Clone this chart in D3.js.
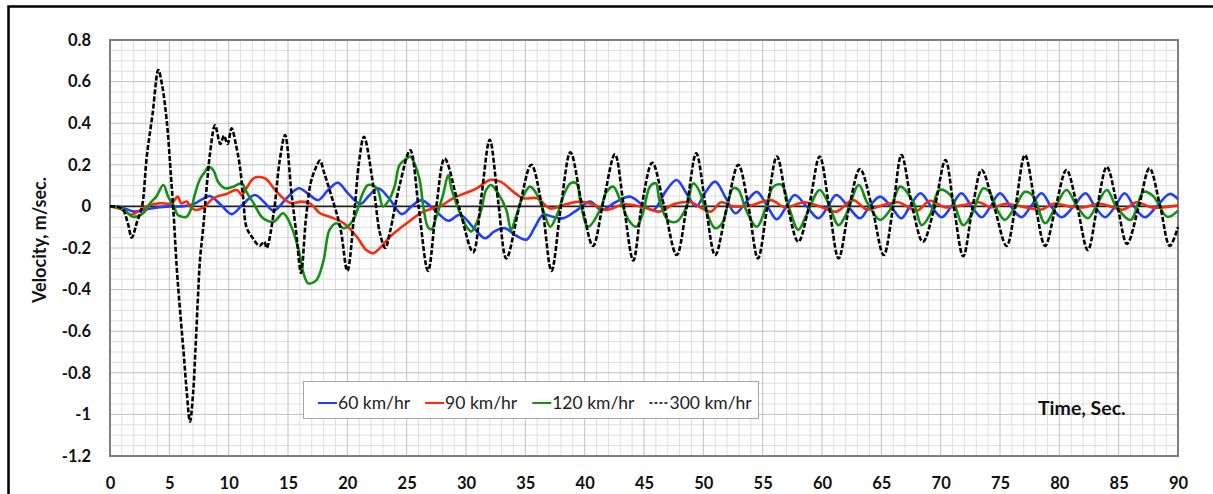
<!DOCTYPE html>
<html>
<head>
<meta charset="utf-8">
<script src="https://cdn.jsdelivr.net/npm/d3@7"></script>
<style>
  html, body { margin: 0; padding: 0; background: #fff; }
  svg { display: block; }
</style>
</head>
<body>
<svg id="chart" width="1213" height="494"></svg>
<script>
// ---------------- DATA ----------------
const seriesNames = ["60 km/hr", "90 km/hr", "120 km/hr", "300 km/hr"];
const xTicks = [0,5,10,15,20,25,30,35,40,45,50,55,60,65,70,75,80,85,90];
const yTicks = [0.8,0.6,0.4,0.2,0,-0.2,-0.4,-0.6,-0.8,-1,-1.2];
const xTitle = "Time, Sec.";
const yTitle = "Velocity, m/sec.";

// [time (s), velocity (m/s)]
const v60 = [
 [0,0],[1,-0.005],[2,-0.025],[3,-0.015],[4,-0.005],[5,0],[6,0],[7,0.01],[7.8,0.035],[8.4,0.05],
 [9.3,0.01],[10.25,-0.037],[11.2,0.01],[12.2,0.055],[13,0.02],[13.8,-0.02],[14.9,0.04],[15.9,0.087],
 [16.7,0.06],[17.55,0.03],[18.4,0.08],[19.2,0.114],[20.1,0.06],[21.1,0.012],[21.8,0.05],[22.6,0.087],
 [23.5,0.04],[24.6,-0.037],[25.4,0],[26.25,0.03],[27.4,-0.02],[28.5,-0.069],[29.5,-0.04],[30.6,-0.1],
 [31.6,-0.153],[32.4,-0.12],[33.3,-0.105],[34.2,-0.14],[35.1,-0.16],[35.8,-0.1],[36.5,-0.04],[37.3,-0.05],
 [38.2,-0.057],[39.3,-0.02],[40.45,0.023],[41.4,-0.017],[42.6,0.02],[43.8,0.047],[44.9,0.007],[45.8,-0.017],
 [46.8,0.07],[47.75,0.127],[48.6,0.06],[49.4,0],[50.2,0.07],[51,0.119],[51.9,0.04],[52.7,-0.033],
 [53.6,0.02],[54.5,0.07],[55.4,0],[56.2,-0.062],[57,0],[57.7,0.055],[58.7,0],[59.7,-0.057],[60.5,0],
 [61.2,0.055],[62.2,0],[63.2,-0.057],[64,0],[64.9,0.047],[65.8,0],[66.7,-0.057],[67.4,0],[68.3,0.063],
 [69.2,0],[70.1,-0.052],[70.9,0],[71.75,0.063],[72.6,0],[73.45,-0.052],[74.2,0],[75,0.063],[75.9,0],
 [76.8,-0.052],[77.6,0],[78.5,0.063],[79.3,0],[80.2,-0.052],[81.2,0],[82.2,0.063],[83,0],[83.85,-0.052],
 [84.7,0],[85.5,0.063],[86.3,0],[87.2,-0.052],[88.2,0],[89.3,0.06],[90,0.035]
];

const v90 = [
 [0,0],[1,-0.015],[1.8,-0.04],[2.5,-0.02],[3.3,0.005],[4.2,0.015],[5.2,0.015],[5.7,0.047],[6,0.015],
 [6.5,0.023],[6.75,0],[7.2,-0.017],[8,0],[8.5,0.03],[9,0.047],[9.8,0.06],[10.7,0.079],[11.1,0.055],
 [11.5,0.087],[12,0.13],[12.3,0.14],[12.8,0.14],[13.2,0.13],[13.8,0.087],[14.6,0.039],[15.3,0.015],
 [16.1,0.023],[16.85,0.015],[17.7,-0.033],[18.5,-0.05],[19.7,-0.081],[20.8,-0.146],[21.6,-0.21],
 [22.2,-0.225],[22.75,-0.2],[23.6,-0.146],[25,-0.081],[26.4,-0.025],[27.8,0],[28.9,0.039],[29.9,0.063],
 [30.9,0.087],[31.5,0.11],[32,0.127],[32.9,0.119],[34,0.07],[34.8,0.039],[36,0.039],[37.1,-0.01],
 [38.4,0.01],[39.6,0.023],[40.7,0.01],[41.8,-0.017],[43.3,0.01],[45,-0.005],[46.3,-0.025],[47.5,0.01],
 [48.9,0.02],[50.6,-0.025],[51.5,0.02],[52.5,0],[54,0.005],[55.7,0.03],[56.9,-0.005],[58.5,0.02],
 [59.8,0],[61.2,-0.025],[62.6,0.03],[63.8,-0.015],[64.8,0],[66.4,0.02],[68,-0.02],[69.1,0.027],
 [70.4,-0.005],[71.8,0.005],[73.2,0.02],[74.3,-0.005],[75.5,0.013],[76.8,0],[78.5,-0.015],[79.5,0.013],
 [80.8,0],[82,-0.005],[83.4,0.013],[85.4,-0.015],[86.5,0.02],[87.8,-0.005],[90,0.005]
];

const v120 = [
 [0,0],[1,-0.01],[1.96,-0.05],[2.8,-0.033],[3.37,0.015],[3.9,0.047],[4.5,0.103],[4.9,0.047],[5.4,0],
 [5.7,-0.04],[6.45,-0.05],[6.9,0],[7.1,0.047],[7.55,0.127],[8,0.167],[8.3,0.19],[8.7,0.175],[9.1,0.119],
 [9.7,0.087],[10.4,0.095],[11.1,0.111],[11.5,0.07],[12.1,0.015],[12.9,-0.057],[13.8,-0.073],[14.6,-0.033],
 [15.3,-0.1],[15.9,-0.21],[16.3,-0.32],[16.7,-0.37],[17.4,-0.354],[18,-0.258],[18.5,-0.113],[19.1,-0.081],
 [19.7,-0.105],[20.5,-0.065],[21.3,0.063],[21.75,0.103],[22.5,0.087],[23,0],[23.5,0.03],[24,0.1],
 [24.4,0.2],[25,0.23],[25.3,0.24],[25.7,0.2],[26.1,0.127],[26.4,0],[26.8,-0.1],[27.1,-0.11],[27.5,-0.05],
 [28.1,0.063],[28.5,0.151],[28.8,0.079],[29.5,-0.033],[30.05,-0.098],[30.45,-0.12],[31.2,-0.033],
 [31.7,0.079],[32.1,0.103],[32.7,0.063],[33.4,-0.017],[33.8,-0.113],[34.2,-0.05],[34.8,0.047],[35.4,0.095],
 [36,0.055],[36.5,-0.017],[37.1,-0.098],[37.6,-0.05],[38.3,0.063],[38.8,0.111],[39.3,0.111],[39.7,0],
 [40.3,-0.098],[41.3,-0.017],[41.85,0.07],[42.4,0.095],[43,0.03],[43.7,-0.065],[44.35,-0.098],[44.9,-0.033],
 [45.5,0.095],[46,0.111],[46.3,0.03],[47,-0.065],[47.75,-0.073],[48.6,0],[49.15,0.111],[49.7,0.07],
 [50.1,0],[51,-0.105],[51.6,-0.08],[52.5,0.087],[52.95,0.08],[53.6,-0.017],[54.5,-0.098],[55.3,0],
 [55.9,0.095],[56.6,0.103],[57.3,-0.02],[58,-0.113],[58.7,-0.04],[59.8,0.079],[60.5,0.02],[61.4,-0.09],
 [62.1,-0.03],[63.1,0.103],[63.8,0.02],[64.9,-0.065],[65.7,-0.02],[66.6,0.095],[67.7,0.02],[68.4,-0.09],
 [69.1,-0.04],[69.9,0.079],[70.8,0.055],[71.9,-0.09],[72.6,-0.04],[73.6,0.087],[74.1,0.07],[74.8,-0.02],
 [75.4,-0.065],[76.3,0],[77.1,0.07],[77.8,0.05],[78.8,-0.081],[79.7,0],[80.6,0.079],[81.5,0],[82.4,-0.057],
 [83.1,0],[84,0.079],[84.8,0],[86,-0.065],[87.1,0.07],[87.9,0.05],[89.1,-0.05],[90,-0.02]
];

const v300 = [
 [0,0],[1,-0.01],[1.5,-0.08],[1.83,-0.15],[2.3,-0.07],[2.7,0],[3.1,0.24],[3.6,0.45],[4.07,0.656],
 [4.4,0.58],[4.8,0.4],[5.14,0.143],[5.34,-0.017],[5.62,-0.29],[5.9,-0.5],[6.2,-0.7],[6.45,-0.88],
 [6.74,-1.035],[7,-0.9],[7.2,-0.69],[7.4,-0.45],[7.58,-0.26],[7.86,-0.097],[8.15,0.095],[8.43,0.255],
 [8.85,0.39],[9.3,0.3],[9.6,0.34],[9.9,0.3],[10.25,0.375],[10.6,0.3],[10.95,0.19],[11.24,0.03],
 [11.5,-0.1],[12,-0.15],[12.6,-0.19],[13,-0.17],[13.2,-0.2],[13.8,-0.03],[14.3,0.22],[14.75,0.343],
 [15.3,0.06],[15.7,-0.13],[16.1,-0.32],[16.5,-0.065],[16.9,0.11],[17.3,0.18],[17.7,0.22],[18,0.17],
 [18.5,0.08],[19.4,-0.1],[20,-0.31],[20.6,-0.02],[21,0.22],[21.4,0.335],[22.2,0.095],[22.75,-0.13],
 [23.2,-0.2],[23.6,-0.12],[24.4,0.1],[25.3,0.27],[26,0],[26.8,-0.31],[27.5,0],[28.2,0.23],[29.4,0],
 [30.6,-0.22],[31.3,0.05],[32,0.32],[32.7,0.03],[33.4,-0.25],[34.5,0],[35.5,0.2],[36.4,0],[37.2,-0.31],
 [38,0],[38.8,0.26],[39.8,0],[40.7,-0.19],[41.6,0.03],[42.55,0.25],[43.3,0],[44.1,-0.26],[44.8,0],
 [45.7,0.21],[46.7,0],[47.75,-0.234],[48.6,0],[49.4,0.255],[50.2,0],[51,-0.234],[52,0],[52.95,0.2],
 [53.8,0],[54.6,-0.25],[55.4,0],[56.2,0.24],[57.1,0],[58,-0.17],[58.9,0],[59.8,0.24],[60.6,0],
 [61.4,-0.25],[62.3,0],[63.2,0.18],[64.2,0],[65.2,-0.234],[66,0],[66.7,0.247],[67.6,0],[68.5,-0.17],
 [69.5,0],[70.4,0.223],[71.1,0],[71.9,-0.24],[72.7,0],[73.45,0.175],[74.5,0],[75.55,-0.19],[76.3,0],
 [77.1,0.247],[78,0],[78.8,-0.19],[79.7,0],[80.6,0.175],[81.5,0],[82.4,-0.21],[83.2,0],[84,0.19],
 [84.9,0],[85.7,-0.18],[86.7,0],[87.6,0.183],[88.5,0],[89.3,-0.19],[90,-0.1]
];

// ---------------- STYLE / LAYOUT ----------------
const colors = ["#1f3fff", "#ff2a0a", "#149114", "#000000"];
const widths = [2.6, 2.6, 2.6, 2.6];
const dashes = [null, null, null, "5,2"];
const data = [v60, v90, v120, v300];

const plot = { left: 110, top: 40, right: 1178, bottom: 456 };
const svg = d3.select("#chart");

// outer frame
svg.append("rect")
  .attr("x", 8.5).attr("y", 6.5).attr("width", 1230).attr("height", 520)
  .attr("fill", "none").attr("stroke", "#000").attr("stroke-width", 2.5);

const x = d3.scaleLinear().domain([0, 90]).range([plot.left, plot.right]);
const y = d3.scaleLinear().domain([-1.2, 0.8]).range([plot.bottom, plot.top]);

// grid
const g = svg.append("g");
const minorX = d3.range(0, 91, 1).filter(d => d % 5 !== 0);
const minorY = d3.range(-1.2, 0.8001, 0.05).map(d => Math.round(d * 100) / 100)
  .filter(d => Math.abs(Math.round(d * 100) % 20) !== 0);
g.selectAll(".mx").data(minorX).enter().append("line")
  .attr("x1", d => x(d)).attr("x2", d => x(d)).attr("y1", plot.top).attr("y2", plot.bottom)
  .attr("stroke", "#dedede").attr("stroke-width", 1);
g.selectAll(".my").data(minorY).enter().append("line")
  .attr("y1", d => y(d)).attr("y2", d => y(d)).attr("x1", plot.left).attr("x2", plot.right)
  .attr("stroke", "#dedede").attr("stroke-width", 1);
g.selectAll(".Mx").data(xTicks).enter().append("line")
  .attr("x1", d => x(d)).attr("x2", d => x(d)).attr("y1", plot.top).attr("y2", plot.bottom)
  .attr("stroke", "#c0c0c0").attr("stroke-width", 1);
g.selectAll(".My").data(yTicks).enter().append("line")
  .attr("y1", d => y(d)).attr("y2", d => y(d)).attr("x1", plot.left).attr("x2", plot.right)
  .attr("stroke", "#c0c0c0").attr("stroke-width", 1);

// plot border
svg.append("rect")
  .attr("x", plot.left).attr("y", plot.top)
  .attr("width", plot.right - plot.left).attr("height", plot.bottom - plot.top)
  .attr("fill", "none").attr("stroke", "#7f7f7f").attr("stroke-width", 2);

// zero line
svg.append("line")
  .attr("x1", x(0)).attr("x2", x(90)).attr("y1", y(0)).attr("y2", y(0))
  .attr("stroke", "#222").attr("stroke-width", 1.6);

// series
const line = d3.line().x(d => x(d[0])).y(d => y(d[1])).curve(d3.curveCatmullRom.alpha(0.5));
data.forEach((s, i) => {
  svg.append("path")
    .attr("d", line(s))
    .attr("fill", "none")
    .attr("stroke", colors[i])
    .attr("stroke-width", widths[i])
    .attr("stroke-linejoin", "round")
    .attr("stroke-dasharray", dashes[i]);
});

// axes
const fmt = d => String(Math.round(d * 10) / 10);
const yAxis = svg.append("g").attr("transform", `translate(${plot.left - 19},0)`)
  .call(d3.axisLeft(y).tickValues(yTicks).tickFormat(fmt).tickSize(0).tickPadding(0));
const xAxis = svg.append("g").attr("transform", `translate(0,${plot.bottom + 21})`)
  .call(d3.axisBottom(x).tickValues(xTicks).tickFormat(fmt).tickSize(0).tickPadding(0));
[yAxis, xAxis].forEach(a => {
  a.select(".domain").remove();
  a.selectAll("text")
    .attr("font-family", "Lato, 'Open Sans', sans-serif")
    .attr("font-weight", 700).attr("font-size", 16.5).attr("fill", "#111");
});
xAxis.selectAll("text").attr("dy", "0.71em");

// axis titles
svg.append("text")
  .attr("transform", `translate(46,240) rotate(-90)`)
  .attr("text-anchor", "middle")
  .attr("font-family", "Lato, sans-serif").attr("font-weight", 700).attr("font-size", 18)
  .attr("fill", "#111").text(yTitle);
svg.append("text")
  .attr("x", 1038).attr("y", 415)
  .attr("font-family", "Lato, sans-serif").attr("font-weight", 700).attr("font-size", 19.5)
  .attr("fill", "#111").text(xTitle);

// legend
const lg = svg.append("g");
lg.append("rect").attr("x", 303.5).attr("y", 381.5).attr("width", 455).attr("height", 37)
  .attr("fill", "#fff").attr("stroke", "#a6a6a6").attr("stroke-width", 1);
let lx = 318;
seriesNames.forEach((name, i) => {
  lg.append("line").attr("x1", lx).attr("x2", lx + 19).attr("y1", 403).attr("y2", 403)
    .attr("stroke", colors[i]).attr("stroke-width", i === 3 ? 1.5 : 2)
    .attr("stroke-dasharray", i === 3 ? "3,2" : null);
  const t = lg.append("text").attr("x", lx + 20).attr("y", 409)
    .attr("font-family", "Lato, sans-serif").attr("font-size", 17.5).attr("fill", "#222")
    .text(name);
  lx += 20 + t.node().getComputedTextLength() + 15;
});
</script>
</body>
</html>
